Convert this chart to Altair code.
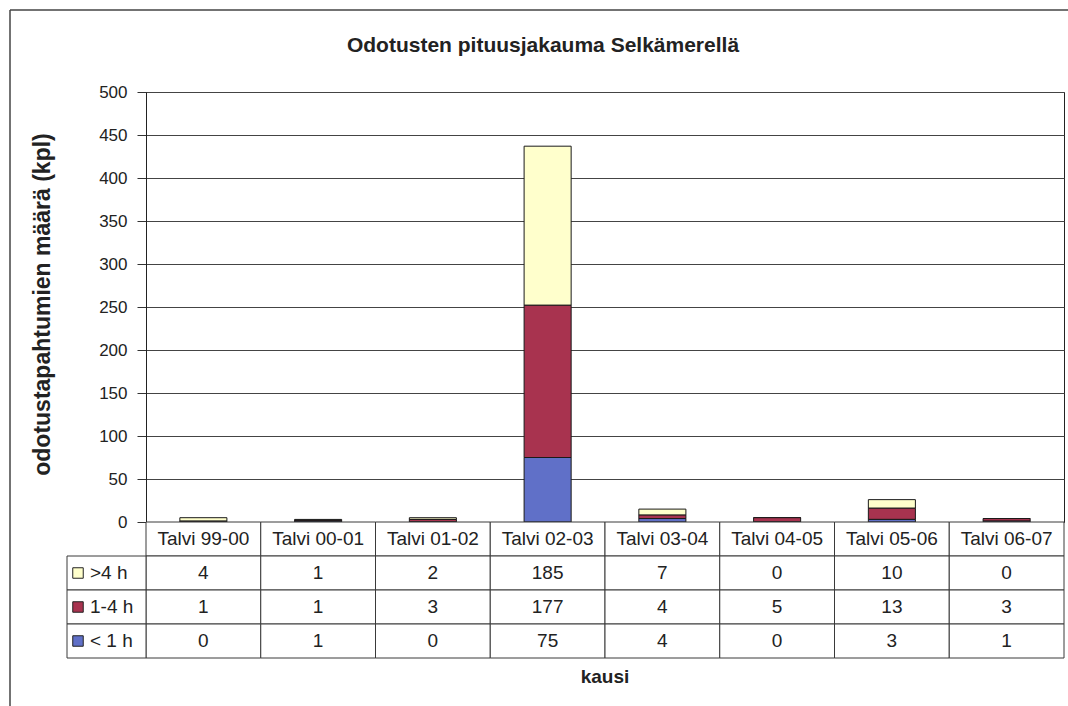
import altair as alt
import pandas as pd

FONT = "Liberation Sans"

seasons = ["Talvi 99-00", "Talvi 00-01", "Talvi 01-02", "Talvi 02-03",
           "Talvi 03-04", "Talvi 04-05", "Talvi 05-06", "Talvi 06-07"]
series_names = [">4 h", "1-4 h", "< 1 h"]
over_4h = [4, 1, 2, 185, 7, 0, 10, 0]
h_1_4 = [1, 1, 3, 177, 4, 5, 13, 3]
under_1h = [0, 1, 0, 75, 4, 0, 3, 1]
series_colors = ["#FFFFCC", "#A8334F", "#6070C8"]
y_ticks = list(range(0, 501, 50))
chart_title = "Odotusten pituusjakauma Selkämerellä"
y_title = "odotustapahtumien määrä (kpl)"
x_title = "kausi"

values_by_series = {">4 h": over_4h, "1-4 h": h_1_4, "< 1 h": under_1h}
stack_rank = {"< 1 h": 0, "1-4 h": 1, ">4 h": 2}

bar_rows = []
for s in series_names:
    for season, v in zip(seasons, values_by_series[s]):
        bar_rows.append({"season": season, "series": s, "value": v, "rank": stack_rank[s]})
bars_df = pd.DataFrame(bar_rows)

HDR = " "
row_order = [HDR] + series_names
cell_rows = [{"season": season, "row": HDR, "label": season} for season in seasons]
for s in series_names:
    for season, v in zip(seasons, values_by_series[s]):
        cell_rows.append({"season": season, "row": s, "label": str(v)})
cells_df = pd.DataFrame(cell_rows)
hdr_df = pd.DataFrame({"series": series_names})

W, H = 918, 430
ROW_H = 34

x_scale = alt.Scale(domain=seasons, paddingInner=0, paddingOuter=0)
row_scale = alt.Scale(domain=row_order, range=[H, H + 4 * ROW_H], paddingInner=0, paddingOuter=0)
color_scale = alt.Scale(domain=series_names, range=series_colors)

frame_top = alt.Chart(pd.DataFrame({"a": [0]})).mark_rule(color="#444", strokeWidth=1.5).encode(
    x=alt.value(-136), x2=alt.value(W + 10), y=alt.value(-82))
frame_left = alt.Chart(pd.DataFrame({"a": [0]})).mark_rule(color="#444", strokeWidth=1.5).encode(
    x=alt.value(-136), y=alt.value(-82), y2=alt.value(H + 200))

bars = alt.Chart(bars_df).mark_bar(
    width=alt.RelativeBandSize(0.41), stroke="#1a1a1a", strokeWidth=1, opacity=1
).encode(
    x=alt.X("season:N", scale=x_scale, axis=None),
    y=alt.Y("value:Q", stack="zero", scale=alt.Scale(domain=[0, 500], nice=False),
            axis=alt.Axis(values=y_ticks, title=y_title, grid=True, gridColor="#444",
                          gridWidth=1, tickSize=9, tickColor="#333", domainColor="#222",
                          labelFont=FONT, labelFontSize=17, labelColor="#222", labelPadding=10,
                          titleFont=FONT, titleFontSize=23, titleFontWeight="bold",
                          titleColor="#222", titleX=-104, titleY=H / 2 - 3, titleAngle=270,
                          titleAlign="center", titleBaseline="middle")),
    color=alt.Color("series:N", scale=color_scale, legend=None),
    order=alt.Order("rank:Q", sort="ascending"),
)

cells = alt.Chart(cells_df).mark_rect(fill="white", stroke="#3a3a3a", strokeWidth=1).encode(
    x=alt.X("season:N", scale=x_scale, axis=None),
    y=alt.Y("row:N", scale=row_scale, axis=None),
)
cell_text = alt.Chart(cells_df).mark_text(font=FONT, fontSize=19, color="#222").encode(
    x=alt.X("season:N", scale=x_scale, axis=None),
    y=alt.Y("row:N", scale=row_scale, axis=None),
    text="label:N",
)

hdr_box = alt.Chart(hdr_df).mark_rect(fill="white", stroke="#3a3a3a", strokeWidth=1).encode(
    x=alt.value(-79), x2=alt.value(0),
    y=alt.Y("series:N", scale=row_scale, axis=None),
)
swatches = alt.Chart(hdr_df).mark_square(size=110, stroke="#222", strokeWidth=1, opacity=1).encode(
    x=alt.value(-68),
    y=alt.Y("series:N", scale=row_scale, axis=None),
    color=alt.Color("series:N", scale=color_scale, legend=None),
)
hdr_text = alt.Chart(hdr_df).mark_text(font=FONT, fontSize=19, color="#222", align="left").encode(
    x=alt.value(-56),
    y=alt.Y("series:N", scale=row_scale, axis=None),
    text="series:N",
)

title = alt.Chart(pd.DataFrame({"t": [chart_title]})).mark_text(
    font=FONT, fontSize=21, fontWeight="bold", color="#222").encode(
    x=alt.value(397), y=alt.value(-46), text="t:N")
xlabel = alt.Chart(pd.DataFrame({"t": [x_title]})).mark_text(
    font=FONT, fontSize=19, fontWeight="bold", color="#222").encode(
    x=alt.value(W / 2), y=alt.value(585), text="t:N")

chart = alt.layer(
    frame_top, frame_left, bars, cells, cell_text, hdr_box, swatches, hdr_text, title, xlabel
).resolve_scale(y="independent").properties(
    width=W, height=H,
    padding={"left": 146, "top": 92, "right": 4, "bottom": 184},
    autosize=alt.AutoSizeParams(type="none"),
    background="white",
).configure_view(stroke="#222", strokeWidth=1)

chart.save("out.html", embed_options={"renderer": "svg", "actions": False})
